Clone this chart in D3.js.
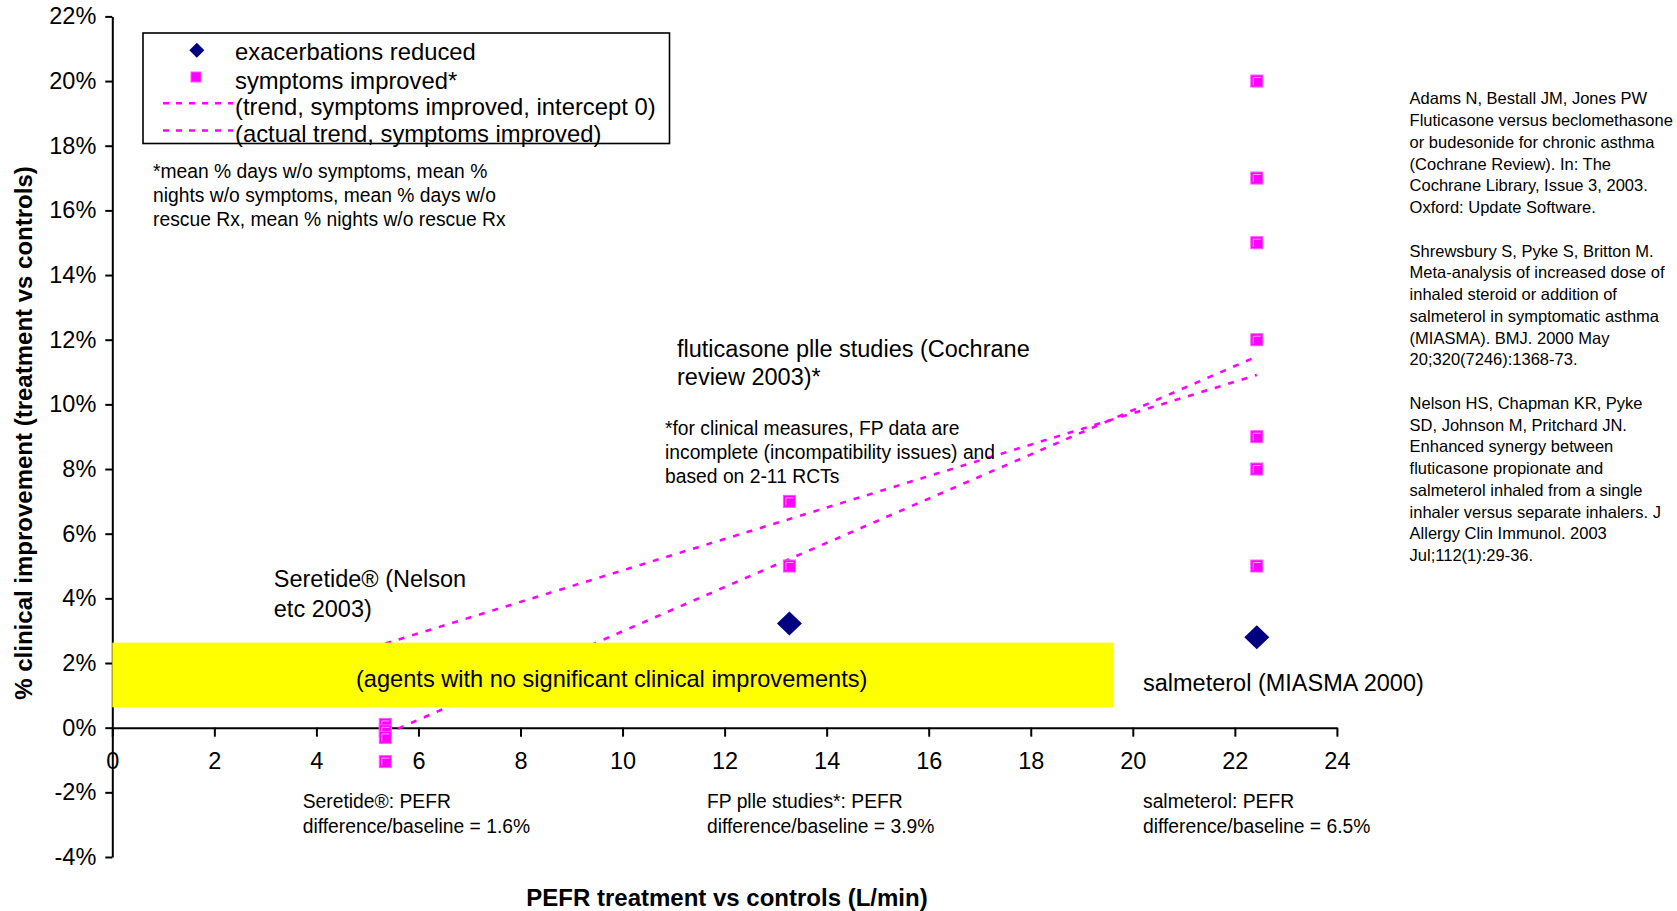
<!DOCTYPE html>
<html>
<head>
<meta charset="utf-8">
<script src="https://cdn.jsdelivr.net/npm/d3@7/dist/d3.min.js"></script>
<style>
  html, body { margin: 0; padding: 0; background: #fff; }
  svg { display: block; font-family: "Liberation Sans", Arial, sans-serif; }
</style>
</head>
<body>
<svg id="chart" width="1677" height="911"></svg>
<script>
// ---------- data ----------
const groupNames = ["Seretide", "FP plle studies", "salmeterol"];
const groupPEFR = [5.35, 13.27, 22.43];

const exacerbationsX = [13.27, 22.43];
const exacerbationsY = [3.22, 2.8];

const symptomsX = [5.35, 5.35, 5.35, 5.35, 13.27, 13.27, 22.43, 22.43, 22.43, 22.43, 22.43, 22.43, 22.43];
const symptomsY = [0.1, -0.1, -0.3, -1.05, 7.0, 5.0, 20, 17, 15, 12, 9, 8, 5];

const trendZeroX = [5.35, 22.43];
const trendZeroY = [2.6, 10.91];
const trendActualX = [5.35, 22.43];
const trendActualY = [-0.2, 11.48];

const bandX = [0, 19.62];
const bandY = [0.63, 2.63];

const xTickValues = [0, 2, 4, 6, 8, 10, 12, 14, 16, 18, 20, 22, 24];
const yTickValues = [-4, -2, 0, 2, 4, 6, 8, 10, 12, 14, 16, 18, 20, 22];

const legendLabels = ["exacerbations reduced", "symptoms improved*",
  "(trend, symptoms improved, intercept 0)", "(actual trend, symptoms improved)"];

const references = [
  "Adams N, Bestall JM, Jones PW", "Fluticasone versus beclomethasone", "or budesonide for chronic asthma",
  "(Cochrane Review). In: The", "Cochrane Library, Issue 3, 2003.", "Oxford: Update Software.", "",
  "Shrewsbury S, Pyke S, Britton M.", "Meta-analysis of increased dose of", "inhaled steroid or addition of",
  "salmeterol in symptomatic asthma", "(MIASMA). BMJ. 2000 May", "20;320(7246):1368-73.", "",
  "Nelson HS, Chapman KR, Pyke", "SD, Johnson M, Pritchard JN.", "Enhanced synergy between",
  "fluticasone propionate and", "salmeterol inhaled from a single", "inhaler versus separate inhalers. J",
  "Allergy Clin Immunol. 2003", "Jul;112(1):29-36."
];

// ---------- setup ----------
const MAG = "#ff00ff", NAVY = "#000080", YEL = "#ffff00";
const svg = d3.select("#chart");
const x = d3.scaleLinear().domain([0, 24]).range([112.3, 1336.9]);
const y = d3.scaleLinear().domain([-4, 22]).range([857, 16.4]);

// ---------- axes ----------
const yAxis = d3.axisLeft(y).tickValues(yTickValues).tickSize(7).tickSizeOuter(0)
  .tickPadding(9).tickFormat(d => d + "%");
const gy = svg.append("g").attr("transform", `translate(${x(0)},0)`).call(yAxis);
const xAxis = d3.axisBottom(x).tickValues(xTickValues).tickSize(9).tickSizeOuter(0)
  .tickPadding(16).tickFormat(d => d);
const gx = svg.append("g").attr("transform", `translate(0,${y(0)})`).call(xAxis);
[gx, gy].forEach(g => {
  g.selectAll("path.domain").attr("stroke", "#000").attr("stroke-width", 2);
  g.selectAll(".tick line").attr("stroke", "#000").attr("stroke-width", 2);
  g.selectAll(".tick text").attr("font-size", 23.5).attr("fill", "#000")
    .attr("font-family", "Liberation Sans, Arial, sans-serif");
});

// ---------- trend lines ----------
const line = d3.line().x(d => x(d[0])).y(d => y(d[1]));
svg.append("path").datum(d3.zip(trendZeroX, trendZeroY)).attr("d", line)
  .attr("fill", "none").attr("stroke", MAG).attr("stroke-width", 2.6).attr("stroke-dasharray", "6,8");
svg.append("path").datum(d3.zip(trendActualX, trendActualY)).attr("d", line)
  .attr("fill", "none").attr("stroke", MAG).attr("stroke-width", 2.6).attr("stroke-dasharray", "6,8");

// ---------- yellow band ----------
svg.append("rect")
  .attr("x", x(bandX[0])).attr("y", y(bandY[1]))
  .attr("width", x(bandX[1]) - x(bandX[0])).attr("height", y(bandY[0]) - y(bandY[1]))
  .attr("fill", YEL);
svg.append("text").attr("x", 611.7).attr("y", 686.5).attr("text-anchor", "middle")
  .attr("font-size", 23.6).text("(agents with no significant clinical improvements)");

// ---------- markers ----------
const sq = 12;
const sqG = svg.append("g").selectAll("g").data(d3.zip(symptomsX, symptomsY)).join("g")
  .attr("transform", d => `translate(${x(d[0])},${y(d[1])})`);
sqG.append("rect").attr("x", -sq / 2).attr("y", -sq / 2).attr("width", sq).attr("height", sq)
  .attr("fill", MAG).attr("stroke", "#ff55ff").attr("stroke-width", 1);
sqG.append("path").attr("d", `M${-sq / 2 + 2.5},${sq / 2 - 2}V${-sq / 2 + 2.5}H${sq / 2 - 2}`)
  .attr("fill", "none").attr("stroke", "#ff9cff").attr("stroke-width", 1);
const dia = (w, h) => `M0,${-h}L${w},0L0,${h}L${-w},0Z`;
svg.append("g").selectAll("path").data(d3.zip(exacerbationsX, exacerbationsY)).join("path")
  .attr("transform", d => `translate(${x(d[0])},${y(d[1])})`)
  .attr("d", dia(12.5, 12)).attr("fill", NAVY);

// ---------- legend ----------
const lg = svg.append("g");
lg.append("rect").attr("x", 143).attr("y", 33).attr("width", 526.5).attr("height", 110.5)
  .attr("fill", "none").attr("stroke", "#000").attr("stroke-width", 1.6);
const lgBase = [59.9, 88.8, 114.5, 142.3];
legendLabels.forEach((t, i) => {
  lg.append("text").attr("x", 235).attr("y", lgBase[i]).attr("font-size", 23.8).text(t);
});
lg.append("path").attr("transform", "translate(196.8,50.3)").attr("d", dia(7.5, 7.5)).attr("fill", NAVY);
lg.append("rect").attr("x", 191).attr("y", 72).attr("width", 10).attr("height", 10)
  .attr("fill", MAG).attr("stroke", "#ff55ff");
[103.2, 130.5].forEach(yy => {
  lg.append("line").attr("x1", 163).attr("x2", 233).attr("y1", yy).attr("y2", yy)
    .attr("stroke", MAG).attr("stroke-width", 2.6).attr("stroke-dasharray", "6,7");
});

// ---------- annotations ----------
function block(lines, x0, y0, lh, size, weight) {
  const t = svg.append("text").attr("font-size", size).attr("fill", "#000");
  if (weight) t.attr("font-weight", weight);
  lines.forEach((s, i) => t.append("tspan").attr("x", x0).attr("y", y0 + i * lh).text(s));
  return t;
}
block(["*mean % days w/o symptoms, mean %", "nights w/o symptoms, mean % days w/o",
       "rescue Rx, mean % nights w/o rescue Rx"], 153, 178, 24, 19.3);
block(["fluticasone plle studies (Cochrane", "review 2003)*"], 677, 357, 27.8, 23.5);
block(["*for clinical measures, FP data are", "incomplete (incompatibility issues) and",
       "based on 2-11 RCTs"], 665, 434.7, 24, 19.3);
block(["Seretide® (Nelson", "etc 2003)"], 273.8, 587, 29.5, 23.5);
block(["salmeterol (MIASMA 2000)"], 1143, 690.7, 28, 23.5);
block(["Seretide®: PEFR", "difference/baseline = 1.6%"], 302.7, 808, 24.5, 19.3);
block(["FP plle studies*: PEFR", "difference/baseline = 3.9%"], 707, 808, 24.5, 19.3);
block(["salmeterol: PEFR", "difference/baseline = 6.5%"], 1143, 808, 24.5, 19.3);
block(references, 1409.6, 104.3, 21.75, 16.5);

// ---------- axis titles ----------
svg.append("text").attr("x", 727).attr("y", 906).attr("text-anchor", "middle")
  .attr("font-size", 24).attr("font-weight", "bold").text("PEFR treatment vs controls (L/min)");
svg.append("text").attr("transform", "translate(32,433) rotate(-90)").attr("text-anchor", "middle")
  .attr("font-size", 24).attr("font-weight", "bold").text("% clinical improvement (treatment vs controls)");
</script>
</body>
</html>
